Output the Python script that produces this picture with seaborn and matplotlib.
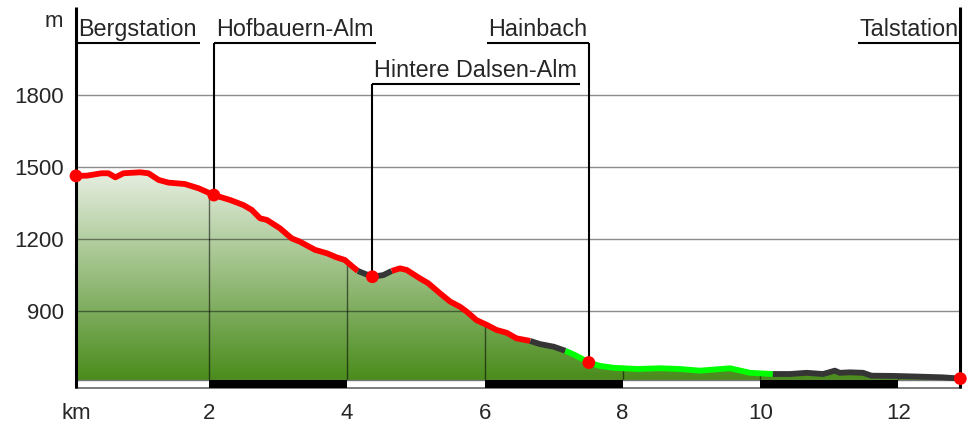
import matplotlib
matplotlib.use('Agg')
import numpy as np
import seaborn as sns
import matplotlib.pyplot as plt
import matplotlib.transforms as mtrans
from matplotlib.colors import LinearSegmentedColormap

# profile: distance (km) and elevation (m)
km = [0.07, 0.23, 0.44, 0.54, 0.64, 0.76, 1.00, 1.12, 1.27, 1.41, 1.65, 1.85,
      2.07, 2.31, 2.50, 2.62, 2.74, 2.84, 3.03, 3.20, 3.32, 3.54, 3.71, 3.85,
      3.97, 4.07, 4.16, 4.37, 4.53, 4.65, 4.77, 4.87, 5.06, 5.18, 5.35, 5.50,
      5.64, 5.74, 5.88, 6.03, 6.17, 6.32, 6.46, 6.66, 6.80, 7.00, 7.17, 7.31,
      7.51, 7.67, 7.87, 8.21, 8.54, 8.83, 9.12, 9.56, 9.85, 10.18, 10.43, 10.67,
      10.91, 11.08, 11.15, 11.30, 11.49, 11.61, 11.93, 12.31, 12.65, 12.90]
elev = [1463, 1464, 1474, 1474, 1457, 1474, 1478, 1474, 1446, 1435, 1429, 1411,
        1383, 1362, 1341, 1321, 1286, 1279, 1244, 1202, 1188, 1154, 1140, 1123,
        1112, 1087, 1066, 1042, 1049, 1066, 1077, 1070, 1035, 1015, 973, 938,
        917, 896, 861, 841, 820, 808, 785, 774, 761, 750, 733, 715,
        684, 670, 662, 657, 660, 657, 650, 660, 641, 636, 636, 641,
        636, 650, 641, 643, 641, 629, 628, 625, 622, 617]

# where the path colour changes (km) and the colour of each piece
seg_breaks = [4.16, 4.65, 6.66, 7.17, 10.18]
seg_colors = ['#ff0000', '#353535', '#ff0000', '#353535', '#00ff00', '#353535']

# waypoints
stops = ['Bergstation', 'Hofbauern-Alm', 'Hintere Dalsen-Alm', 'Hainbach', 'Talstation']
stop_km = [0.07, 2.07, 4.37, 7.51, 12.90]
stop_elev = [1463, 1383, 1042, 684, 617]
stop_row = [0, 0, 1, 0, 0]
stop_side = ['right', 'right', 'right', 'left', 'left']

yticks = [900, 1200, 1500, 1800]
xticks = [2, 4, 6, 8, 10, 12]

base = 611          # foot of the filled area
y_lo, y_hi = 577.6, 2168
row_y = [2018, 1847]

sns.set_style('white')
plt.rcParams['font.family'] = ['Liberation Sans', 'DejaVu Sans']

W, H = 969, 423
fig = plt.figure(figsize=(W / 100, H / 100), dpi=100)
ax = fig.add_axes([76 / W, (H - 388) / H, (961 - 76) / W, (388 - 7) / H])

# gradient fill under the profile
poly = ax.fill_between(km, elev, base, color='none', lw=0)
clip = poly.get_paths()[0]
cmap = LinearSegmentedColormap.from_list('hill', ['#4a8c1c', '#e6eee1'])
grad = np.linspace(0, 1, 256).reshape(-1, 1)
img = ax.imshow(grad, cmap=cmap, origin='lower', aspect='auto',
                extent=[km[0], km[-1], base, max(elev)], zorder=1)
img.set_clip_path(clip, ax.transData)

# vertical grid only inside the hill
vl = ax.vlines(xticks, base, max(elev), colors='black', alpha=0.55, lw=1, zorder=2)
vl.set_clip_path(clip, ax.transData)
ax.hlines(yticks, 0.07, 12.91, colors='black', alpha=0.45, lw=1, zorder=2)

# distance scale bar
ax.hlines(base, 0.07, 12.91, colors='#777777', lw=1, zorder=2)
ax.bar(xticks[::2], base - y_lo, bottom=y_lo, width=2, align='edge',
       color='black', lw=0, zorder=3)

# coloured path segments
edges = [km[0]] + seg_breaks + [km[-1]]
for c, a, b in zip(seg_colors, edges[:-1], edges[1:]):
    xs = [k for k in km if a <= k <= b]
    ys = [e for k, e in zip(km, elev) if a <= k <= b]
    sns.lineplot(x=xs, y=ys, color=c, lw=4.2, ax=ax, zorder=4, sort=False,
                 solid_capstyle='butt', solid_joinstyle='round')

sns.scatterplot(x=stop_km, y=stop_elev, color='#ff0000', s=85, edgecolor='none',
                zorder=6, ax=ax, clip_on=False)

ax.set_xlim(0.07, 12.91)
ax.set_ylim(y_lo, y_hi)

# waypoint labels with leader lines
texts = []
for name, x, e, r, side in zip(stops, stop_km, stop_elev, stop_row, stop_side):
    yl = row_y[r]
    if name in ('Bergstation', 'Talstation'):
        ax.vlines(x, y_lo, y_hi, colors='black', lw=2.2, zorder=5, clip_on=False)
    else:
        ax.vlines(x, e, yl, colors='black', lw=1.5, zorder=5)
    dx = 2 if side == 'right' else -2
    tr = mtrans.offset_copy(ax.transData, fig=fig, x=dx, y=7, units='dots')
    t = ax.text(x, yl, name, ha='left' if side == 'right' else 'right',
                va='baseline', fontsize=16.8, transform=tr, zorder=5)
    texts.append((t, x, yl, side))

fig.canvas.draw()
inv = ax.transData.inverted()
for t, x, yl, side in texts:
    bb = t.get_window_extent()
    if side == 'right':
        xe = inv.transform((bb.x1 + 3, 0))[0]
    else:
        xe = inv.transform((bb.x0 - 1, 0))[0]
    ax.plot([x, xe], [yl, yl], color='black', lw=1.5, zorder=5,
            solid_capstyle='butt', clip_on=False)

for s in ['top', 'right', 'left']:
    ax.spines[s].set_visible(False)
ax.spines['bottom'].set_color('#666666')
ax.spines['bottom'].set_linewidth(1.2)

ax.set_yticks(yticks, [str(v) for v in yticks])
ax.set_xticks([0.07] + xticks, ['km'] + [str(v) for v in xticks])
ax.tick_params(axis='y', length=0, pad=8.6, labelsize=16)
ax.tick_params(axis='x', length=0, pad=10.5, labelsize=16)
ax.set_xlabel('')
ax.set_ylabel('')
fig.text(63 / W, 1 - 26.7 / H, 'm', ha='right', va='baseline', fontsize=16)

fig.savefig('out.png', dpi=100)
